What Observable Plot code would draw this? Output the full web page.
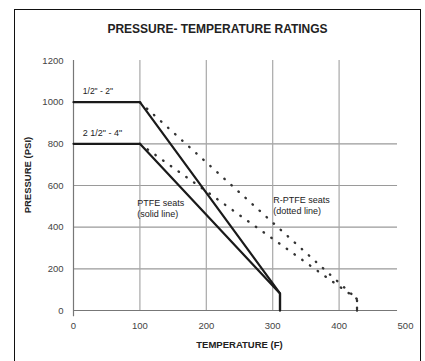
<!DOCTYPE html>
<html><head><meta charset="utf-8">
<script src="https://cdn.jsdelivr.net/npm/d3@7"></script>
<script src="https://cdn.jsdelivr.net/npm/@observablehq/plot@0.6"></script>
<style>
html,body{margin:0;padding:0;background:#fff;overflow:hidden;}
#wrap{position:relative;width:425px;height:361px;}
#border{position:absolute;left:14px;top:9px;width:407px;height:400px;border:1.5px solid #111;box-sizing:border-box;pointer-events:none;}
</style>
</head><body>
<div id="wrap"><div id="border"></div></div>
<script>
const title = "PRESSURE- TEMPERATURE RATINGS";
const xLabel = "TEMPERATURE (F)";
const yLabel = "PRESSURE (PSI)";
const xTicks = [0, 100, 200, 300, 400, 500];
const yTicks = [0, 200, 400, 600, 800, 1000, 1200];
const sizeNames = ['1/2" - 2"', '2 1/2" - 4"'];
// PTFE seats (solid lines)
const solidTemp = [0, 100, 311, 311];
const solidSmall = [1000, 1000, 82, 0];
const solidLarge = [800, 800, 82, 0];
// R-PTFE seats (dotted lines)
const dotTemp = [100, 427, 427];
const dotSmall = [1000, 55, 0];
const dotLarge = [800, 55, 0];
const noteLeft = ["PTFE seats", "(solid line)"];
const noteRight = ["R-PTFE seats", "(dotted line)"];
const gridYVals = [200, 400, 600, 800];
const gridXVals = [100, 200, 300, 400];

const toPts = (xs, ys, s) => xs.map((x, i) => ({t: x, p: ys[i], s}));
const solid = [...toPts(solidTemp, solidSmall, sizeNames[0]), ...toPts(solidTemp, solidLarge, sizeNames[1])];
const dotted = [...toPts(dotTemp, dotSmall, sizeNames[0]), ...toPts(dotTemp, dotLarge, sizeNames[1])];

const font = "Liberation Sans, Arial, sans-serif";
const chart = Plot.plot({
  width: 425, height: 361,
  marginLeft: 73, marginRight: 20, marginTop: 60, marginBottom: 51,
  style: {fontFamily: font, background: "transparent", color: "#333"},
  x: {domain: [0, 500], ticks: xTicks, label: null},
  y: {domain: [0, 1200], ticks: yTicks, label: null},
  marks: [
    Plot.ruleY(gridYVals, {x1: 0, x2: 488, stroke: "#9a9a9a", strokeWidth: 1.2}),
    Plot.ruleX(gridXVals, {y1: 0, y2: 1200, stroke: "#a8a8a8", strokeWidth: 1.2}),
    Plot.ruleY([0], {x1: 0, x2: 488, stroke: "#777", strokeWidth: 1.2}),
    Plot.ruleX([0], {y1: -30, y2: 1200, stroke: "#777", strokeWidth: 1.2}),
    Plot.axisX({ticks: xTicks, tickSize: 0, tickPadding: 12, fontSize: 9.5, fill: "#444", label: null, tickFormat: d3.format("d")}),
    Plot.axisY({ticks: yTicks, tickSize: 0, tickPadding: 10, fontSize: 9.5, fill: "#444", label: null, tickFormat: d3.format("d")}),
    Plot.line(dotted, {x: "t", y: "p", z: "s", stroke: "#333", strokeWidth: 2.4, strokeDasharray: "0.5,9", strokeLinecap: "round"}),
    Plot.line(solid, {x: "t", y: "p", z: "s", stroke: "#1a1a1a", strokeWidth: 2.2}),
    Plot.text([sizeNames[0]], {x: 14, y: 1000, dy: -11, text: d => d, textAnchor: "start", fontSize: 8.5, fill: "#222"}),
    Plot.text([sizeNames[1]], {x: 14, y: 800, dy: -11, text: d => d, textAnchor: "start", fontSize: 9, fill: "#222"}),
    Plot.text([noteLeft.join("\n")], {x: 96, y: 490, text: d => d, textAnchor: "start", fontSize: 9, fill: "#222", lineHeight: 1.2}),
    Plot.text([noteRight.join("\n")], {x: 301, y: 505, text: d => d, textAnchor: "start", fontSize: 9, fill: "#222", lineHeight: 1.2}),
    Plot.text([title], {frameAnchor: "top", dy: -36, dx: -22, text: d => d, fontSize: 12, fontWeight: "bold", fill: "#222"}),
    Plot.text([xLabel], {frameAnchor: "bottom", dy: 37, text: d => d, fontSize: 9.5, fontWeight: "bold", fill: "#222"}),
    Plot.text([yLabel], {frameAnchor: "left", y: 650, dx: -46, rotate: -90, textAnchor: "middle", text: d => d, fontSize: 9.5, fontWeight: "bold", fill: "#222"})
  ]
});
document.getElementById("wrap").prepend(chart);
</script>
</body></html>
